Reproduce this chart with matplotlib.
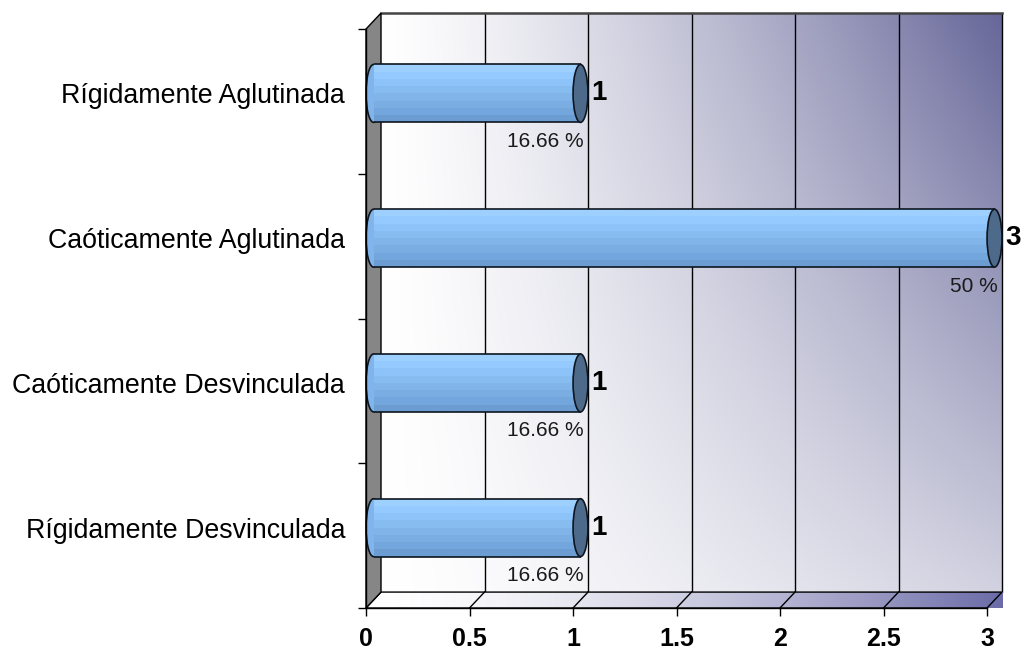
import numpy as np
import matplotlib
matplotlib.use("Agg")
import matplotlib.pyplot as plt
from matplotlib.patches import Polygon, Ellipse

# ---- data ----
categories = ["Rígidamente Desvinculada", "Caóticamente Desvinculada",
              "Caóticamente Aglutinada", "Rígidamente Aglutinada"]
counts = [1, 1, 3, 1]
percent_labels = ["16.66 %", "16.66 %", "50 %", "16.66 %"]
x_ticks = [0, 0.5, 1, 1.5, 2, 2.5, 3]
x_tick_labels = ["0", "0.5", "1", "1.5", "2", "2.5", "3"]

# ---- style ----
NARROW = ["Liberation Sans Narrow", "Liberation Sans", "DejaVu Sans"]
REGULAR = ["Liberation Sans", "DejaVu Sans"]
DX, DY = 0.0725, 0.11          # depth of the 3D box, in data units
BAR_H = 0.40                   # cylinder diameter (category units)
CAP_W = 0.072                  # width of the cylinder's end ellipse (value units)
XMAX = 3.0
YLO, YHI = -0.5, len(categories) - 0.5

fig = plt.figure(figsize=(10.24, 6.55), dpi=100)
ax = fig.add_axes([366 / 1024, 47 / 655, 621 / 1024, 579 / 655])

# back wall with diagonal gradient
H, W = 300, 400
xn = np.linspace(0, 1, W)[None, :]
yn = np.linspace(0, 1, H)[:, None]
t = np.clip(xn ** 1.3 * (0.30 + 0.70 * yn), 0, 1)
end = np.array([0.40, 0.40, 0.60])
img = 1 - t[..., None] * (1 - end)[None, None, :]
ax.imshow(img, extent=[DX, XMAX + DX, YLO + DY, YHI + DY], origin="lower",
          aspect="auto", zorder=0, clip_on=False, interpolation="bilinear")

# grid lines on the back wall
for v in x_ticks[1:]:
    ax.plot([v + DX, v + DX], [YLO + DY, YHI + DY], color="black", lw=1.0,
            zorder=1, clip_on=False)
ax.plot([DX, XMAX + DX], [YHI + DY, YHI + DY], color="#444444", lw=1.8,
        zorder=1, clip_on=False)

# floor
floor = Polygon([(0, YLO), (XMAX, YLO), (XMAX + DX, YLO + DY), (DX, YLO + DY)],
                closed=True, facecolor="none", edgecolor="black", lw=1.0,
                zorder=3, clip_on=False)
ax.add_patch(floor)
fx = np.linspace(0, 1, 400)[None, :]
ft = np.clip(fx ** 1.6, 0, 1)
floor_end = np.array([0.42, 0.42, 0.66])
fimg = 1 - ft[..., None] * (1 - floor_end)[None, None, :]
fimg = np.repeat(fimg, 10, axis=0)
fim = ax.imshow(fimg, extent=[0, XMAX + DX, YLO, YLO + DY], origin="lower",
                aspect="auto", zorder=2, clip_on=False, interpolation="bilinear")
fim.set_clip_path(floor)
for v in x_ticks[1:-1]:
    ax.plot([v, v + DX], [YLO, YLO + DY], color="black", lw=1.0, zorder=3,
            clip_on=False)

# left wall
wall = Polygon([(0, YLO), (DX, YLO + DY), (DX, YHI + DY), (0, YHI)], closed=True,
               facecolor="#868686", edgecolor="black", lw=1.0, zorder=4,
               clip_on=False)
ax.add_patch(wall)

# cylinders
strip_colors = ["#9dd0ff", "#94caff", "#8dc3f8", "#87bcf1", "#81b5ea",
                "#7aaee3", "#73a6dc", "#6b9dd3"]
n = len(strip_colors)
for i, (v, pct) in enumerate(zip(counts, percent_labels)):
    yc = i + DY / 2
    x0 = DX / 2
    # back (left) end
    ax.add_patch(Ellipse((x0, yc), CAP_W, BAR_H, facecolor="#80b4ea",
                         edgecolor="#0d1620", lw=1.2, zorder=5, clip_on=False))
    # shaded body
    sh = BAR_H / n
    for k, c in enumerate(strip_colors):
        ys = yc + BAR_H / 2 - sh * (k + 0.5)
        ax.barh(ys, v, left=x0, height=sh * 1.02, color=c, edgecolor="none",
                zorder=6, clip_on=False)
    ax.hlines([yc - BAR_H / 2, yc + BAR_H / 2], x0, x0 + v, color="#0d1620",
              lw=1.2, zorder=7, clip_on=False)
    # front end cap
    ax.add_patch(Ellipse((x0 + v, yc), CAP_W, BAR_H, facecolor="#4e6a8b",
                         edgecolor="#0d1620", lw=1.2, zorder=8, clip_on=False))
    # value and share labels
    ax.annotate(str(v), xy=(x0 + v, yc), xytext=(11, 0),
                textcoords="offset pixels", ha="left", va="center",
                fontsize=20, fontweight="bold", family=NARROW, zorder=9,
                annotation_clip=False)
    ax.annotate(pct, xy=(x0 + v, yc - BAR_H / 2), xytext=(3, -19),
                textcoords="offset pixels", ha="right", va="center",
                fontsize=15, family=NARROW, color="#1a1a1a", zorder=9,
                annotation_clip=False)

# axes and ticks
ax.set_xlim(0, XMAX)
ax.set_ylim(YLO, YHI)
for s in ("top", "right"):
    ax.spines[s].set_visible(False)
for s in ("left", "bottom"):
    ax.spines[s].set_color("black")
    ax.spines[s].set_linewidth(1.0)
    ax.spines[s].set_zorder(10)

ax.set_xticks(x_ticks)
ax.set_xticklabels(x_tick_labels, fontsize=18, fontweight="bold", family=NARROW)
ax.tick_params(axis="x", direction="out", length=5.5, width=1.0, pad=8)

ax.set_yticks(np.arange(YLO, YHI + 0.01, 1.0))
ax.set_yticklabels([])
ax.tick_params(axis="y", which="major", direction="out", length=6, width=1.0)
ax.set_yticks([i + DY / 2 for i in range(len(categories))], minor=True)
ax.set_yticklabels(categories, minor=True, fontsize=19.3, family=REGULAR)
ax.tick_params(axis="y", which="minor", length=0, pad=15)

ax.set_facecolor("none")
fig.savefig("out.png", dpi=100, facecolor="white")
